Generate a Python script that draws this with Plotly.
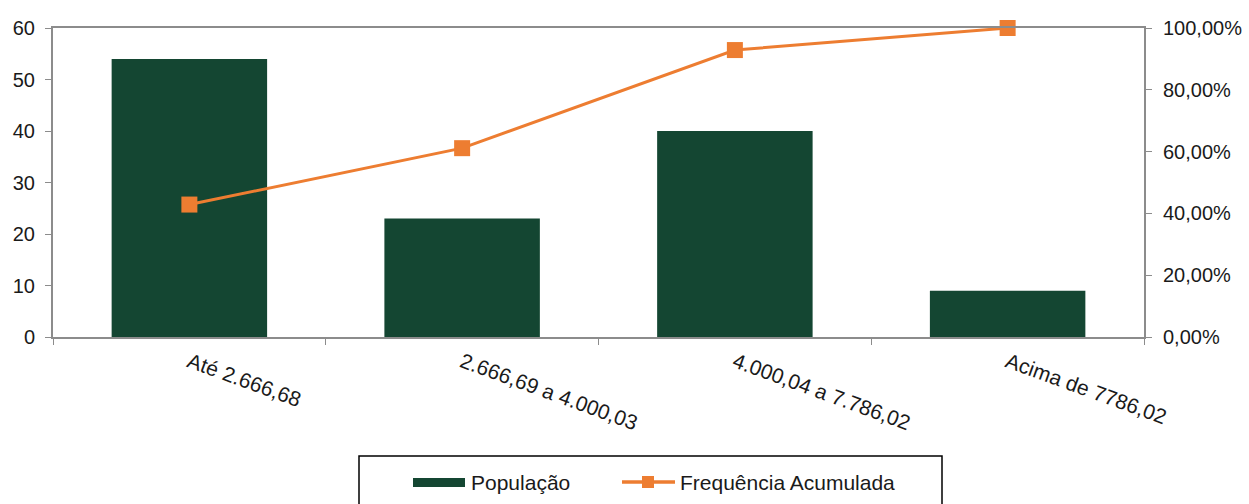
import plotly.graph_objects as go

categories = ["Até 2.666,68", "2.666,69 a 4.000,03", "4.000,04 a 7.786,02", "Acima de 7786,02"]
populacao = [54, 23, 40, 9]
freq_acum = [0.4286, 0.6111, 0.9286, 1.0]

BAR = "#144632"
ORANGE = "#ED7D31"
AX = "#8C8C8C"
TICKFONT = dict(family="Liberation Sans, Arial, sans-serif", size=20, color="#1a1a1a")
XTICKFONT = dict(family="Liberation Sans, Arial, sans-serif", size=21, color="#1a1a1a")
LEGFONT = dict(family="Liberation Sans, Arial, sans-serif", size=21, color="#1a1a1a")

L, R, T, B = 53, 1144, 28, 337
W, H = 1249, 504


def px(x):
    return (x - L) / (R - L)


def py(y):
    return (B - y) / (B - T)


fig = go.Figure()
fig.add_trace(go.Bar(x=categories, y=populacao, name="População",
                     marker=dict(color=BAR, line=dict(width=0)), yaxis="y"))
fig.add_trace(go.Scatter(x=categories, y=freq_acum, name="Frequência Acumulada",
                         mode="lines+markers", yaxis="y2", cliponaxis=False,
                         line=dict(color=ORANGE, width=3),
                         marker=dict(symbol="square", size=16, color=ORANGE)))

shapes = [
    dict(type="rect", xref="paper", yref="paper", x0=px(359), x1=px(942), y0=py(456), y1=py(530),
         line=dict(color="black", width=1.5), fillcolor="rgba(0,0,0,0)"),
    dict(type="rect", xref="paper", yref="paper", x0=px(413), x1=px(465), y0=py(478), y1=py(487),
         line=dict(width=0), fillcolor=BAR),
    dict(type="line", xref="paper", yref="paper", x0=px(622), x1=px(675), y0=py(482), y1=py(482),
         line=dict(color=ORANGE, width=3.5)),
    dict(type="rect", xref="paper", yref="paper", x0=px(642), x1=px(654), y0=py(476), y1=py(488),
         line=dict(width=0), fillcolor=ORANGE),
]
annotations = [
    dict(text="População", xref="paper", yref="paper", x=px(469), y=py(482), xanchor="left",
         yanchor="middle", showarrow=False, font=LEGFONT),
    dict(text="Frequência Acumulada", xref="paper", yref="paper", x=px(678), y=py(482), xanchor="left",
         yanchor="middle", showarrow=False, font=LEGFONT),
]

fig.update_layout(
    width=W, height=H,
    margin=dict(l=L, r=W - R, t=T, b=H - B, autoexpand=False),
    paper_bgcolor="white", plot_bgcolor="white",
    font=TICKFONT,
    separators=",.",
    bargap=0.43,
    showlegend=False,
    xaxis=dict(showline=True, linecolor=AX, linewidth=2, mirror=True,
               ticks="outside", tickson="boundaries", ticklen=6, tickcolor=AX,
               tickangle=20, showgrid=False, tickfont=XTICKFONT, ticklabelstandoff=3,
               automargin=False),
    yaxis=dict(range=[0, 60], dtick=10, showline=True, linecolor=AX, linewidth=2,
               ticks="outside", ticklen=6, tickcolor=AX, showgrid=False, zeroline=False,
               tickfont=TICKFONT, ticklabelstandoff=6, automargin=False),
    yaxis2=dict(range=[0, 1], dtick=0.2, tickformat=".2%", overlaying="y", side="right",
                showline=True, linecolor=AX, linewidth=2, ticks="outside", ticklen=6,
                tickcolor=AX, showgrid=False, zeroline=False, tickfont=TICKFONT,
                ticklabelstandoff=7, automargin=False),
    shapes=shapes,
    annotations=annotations,
)

fig.write_html("out.html", config={"displayModeBar": False},
               post_script="document.body.style.margin='0';document.body.style.overflow='hidden';")
